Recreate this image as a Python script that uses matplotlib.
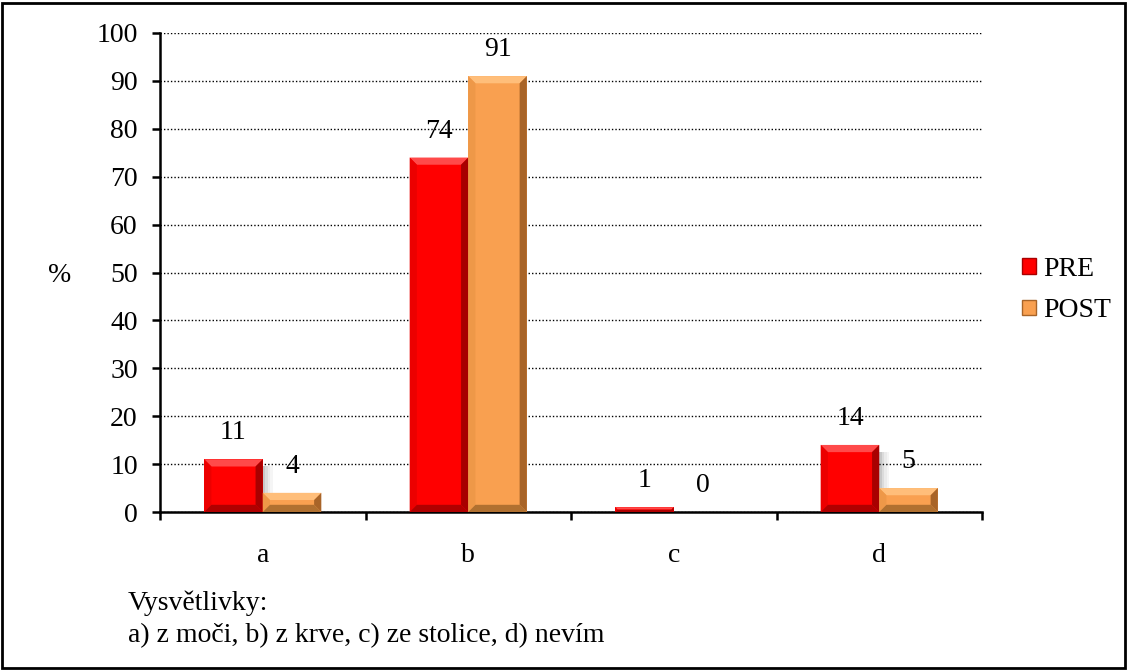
import matplotlib
matplotlib.use("Agg")
import matplotlib.pyplot as plt
from matplotlib.patches import Polygon, Rectangle
import numpy as np

plt.rcParams['font.family'] = ['Liberation Serif', 'DejaVu Serif']

categories = ['a', 'b', 'c', 'd']
pre = [11, 74, 1, 14]
post = [4, 91, 0, 5]
series_names = ['PRE', 'POST']
yticks = [0, 10, 20, 30, 40, 50, 60, 70, 80, 90, 100]
note_title = 'Vysvětlivky:'
note_text = 'a) z moči, b) z krve, c) ze stolice, d) nevím'

FS = 20
W, H = 1128, 670
fig = plt.figure(figsize=(W / 100, H / 100), dpi=100)
ax = fig.add_axes([160 / W, 1 - 512 / H, (982 - 160) / W, (512 - 33) / H])

colors = {
    'PRE': dict(main='#FF0000', top='#FF4a4a', left='#EC0000', right='#A80000', bottom='#B00000'),
    'POST': dict(main='#F9A050', top='#FFBE7A', left='#EE9848', right='#A86428', bottom='#B07030'),
}

x = np.arange(len(categories))
bw = 0.285
ax.set_xlim(-0.5, len(categories) - 0.5)
ax.set_ylim(0, 100)

bx = 0.035  # bevel size x (data)
by_px = 0.035 * 205.5 / (479 / 100)  # matching pixel size in y data units


def bevel_bar(x0, h, c, shadow=False):
    if h <= 0:
        return
    if shadow:
        for k, a in enumerate([0.22, 0.14, 0.08, 0.04]):
            ax.add_patch(Rectangle((x0 + bw + k * 0.012, 0), 0.012, max(h - 1.5, 0),
                                   facecolor='black', alpha=a, edgecolor='none', zorder=2.5))
    ax.add_patch(Rectangle((x0, 0), bw, h, facecolor=c['main'], edgecolor='none', zorder=3))
    b = min(by_px, h / 2.2)
    bxx = bx * (b / by_px)
    x1 = x0 + bw
    ax.add_patch(Polygon([(x0, h), (x1, h), (x1 - bxx, h - b), (x0 + bxx, h - b)],
                         closed=True, facecolor=c['top'], edgecolor='none', zorder=4))
    ax.add_patch(Polygon([(x0, 0), (x0, h), (x0 + bxx, h - b), (x0 + bxx, b)],
                         closed=True, facecolor=c['left'], edgecolor='none', zorder=4))
    ax.add_patch(Polygon([(x1, 0), (x1, h), (x1 - bxx, h - b), (x1 - bxx, b)],
                         closed=True, facecolor=c['right'], edgecolor='none', zorder=4))
    ax.add_patch(Polygon([(x0, 0), (x1, 0), (x1 - bxx, b), (x0 + bxx, b)],
                         closed=True, facecolor=c['bottom'], edgecolor='none', zorder=4))


for vals, name in [(pre, 'PRE'), (post, 'POST')]:
    for i, v in enumerate(vals):
        x0 = x[i] - bw if name == 'PRE' else x[i]
        bevel_bar(x0, v, colors[name], shadow=(name == 'PRE'))
        ax.annotate(str(v), (x0 + bw / 2, v), xytext=(0, 19),
                    textcoords='offset points', ha='center', va='center', fontsize=FS, zorder=6)

ax.set_yticks(yticks)
ax.set_yticklabels([str(t) for t in yticks], fontsize=FS)
ax.yaxis.grid(True, color='black', linestyle=(0, (1, 1.5)), linewidth=1)
ax.set_axisbelow(True)
ax.set_xticks(np.arange(-0.5, len(categories)), minor=False)
ax.set_xticklabels([''] * (len(categories) + 1))
ax.set_xticks(x, minor=True)
ax.set_xticklabels(categories, minor=True, fontsize=FS)
ax.tick_params(axis='x', which='minor', length=0, pad=22)
ax.tick_params(axis='x', which='major', length=6, width=1.8, direction='out')
ax.tick_params(axis='y', length=6, width=1.8, direction='out', pad=10)
for s in ['top', 'right']:
    ax.spines[s].set_visible(False)
ax.spines['left'].set_linewidth(1.8)
ax.spines['bottom'].set_linewidth(1.8)

fig.text(60 / W, 1 - 275 / H, '%', fontsize=FS, ha='center', va='center')

handles = [Rectangle((0, 0), 1, 1, facecolor=colors[n]['main'], edgecolor=colors[n]['right'], linewidth=1)
           for n in series_names]
fig.legend(handles, series_names, loc='center left', bbox_to_anchor=(1022 / W, 1 - 290 / H),
           frameon=False, fontsize=FS, handlelength=0.5, handleheight=0.5, handletextpad=0.25,
           labelspacing=0.6, borderpad=0, borderaxespad=0)

fig.text(128 / W, 1 - 603 / H, note_title, fontsize=FS, ha='left', va='center')
fig.text(128 / W, 1 - 636 / H, note_text, fontsize=FS, ha='left', va='center')

fig.add_artist(Rectangle((2 / W, 2 / H), (W - 5) / W, (H - 5) / H, transform=fig.transFigure,
                         fill=False, edgecolor='black', linewidth=2))

fig.savefig('out.png', dpi=100)
